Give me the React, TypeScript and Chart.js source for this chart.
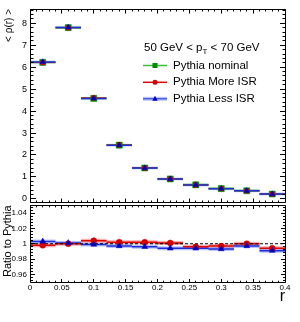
import React, { useEffect, useRef } from "react";
import { Chart, registerables } from "chart.js";
Chart.register(...registerables);

// ---------- data ----------
const rEdges = [0, 0.04, 0.08, 0.12, 0.16, 0.2, 0.24, 0.28, 0.32, 0.36, 0.4];
const rCenters = [0.02, 0.06, 0.1, 0.14, 0.18, 0.22, 0.26, 0.3, 0.34, 0.38];
const nominal = [6.22, 7.8, 4.58, 2.45, 1.41, 0.91, 0.64, 0.47, 0.37, 0.22];
const moreISR = [6.21, 7.8, 4.6, 2.455, 1.413, 0.911, 0.637, 0.469, 0.37, 0.219];
const lessISR = [6.24, 7.81, 4.575, 2.443, 1.404, 0.905, 0.636, 0.467, 0.369, 0.218];
const moreISRRatio = [0.998, 1.0, 1.004, 1.002, 1.002, 1.001, 0.996, 0.997, 1.0, 0.994];
const lessISRRatio = [1.003, 1.001, 0.999, 0.997, 0.996, 0.994, 0.994, 0.993, 0.997, 0.991];
const ratioReference = [1, 1];
const topYTicks = [0, 1, 2, 3, 4, 5, 6, 7, 8];
const ratioYTicks = [0.96, 0.98, 1, 1.02, 1.04];
const xTicks = [0, 0.05, 0.1, 0.15, 0.2, 0.25, 0.3, 0.35, 0.4];
const legendTitleParts = ["50 GeV < p", "T", " < 70 GeV"];
const legendLabels = ["Pythia nominal", "Pythia More ISR", "Pythia Less ISR"];

const FONT = '"Liberation Sans", Arial, sans-serif';
const GREEN_LINE = "#3cc03c";
const GREEN_MARK = "#008a00";
const RED_LINE = "#e00000";
const RED_MARK = "#d40000";
const RED_BAND = "rgba(240,110,110,0.55)";
const BLUE_LINE = "#1f2fd8";
const BLUE_MARK = "#0000b8";
const BLUE_BAND = "rgba(120,140,250,0.5)";
const BLUE_BAND_TOP = "rgba(120,140,250,0.4)";

function bins(values: number[]) {
  const out: any[] = [];
  values.forEach((v, i) => {
    out.push({ x: rEdges[i], y: v });
    out.push({ x: rEdges[i + 1], y: v });
    out.push({ x: rEdges[i + 1], y: null });
  });
  return out;
}
function pts(values: number[]) {
  return values.map((v, i) => ({ x: rCenters[i], y: v }));
}

function lineDs(data: any[], color: string, width: number, order: number, dash?: number[]) {
  return {
    type: "line",
    data,
    borderColor: color,
    borderWidth: width,
    borderDash: dash || [],
    pointRadius: 0,
    pointHoverRadius: 0,
    spanGaps: false,
    fill: false,
    order,
  };
}
function markDs(data: any[], color: string, style: string, radius: number, order: number) {
  return {
    type: "line",
    data,
    showLine: false,
    pointStyle: style,
    pointRadius: radius,
    pointHoverRadius: radius,
    pointBackgroundColor: color,
    pointBorderColor: color,
    pointBorderWidth: 0.5,
    order,
  };
}

type TickCfg = {
  xMinor: number; xEvery: number; xMaj: number; xMin: number;
  yMinor: number; yEvery: number; yMaj: number; yMin: number;
};

function frameTicks(cfg: TickCfg) {
  return {
    id: "frameTicks",
    afterDatasetsDraw(chart: any) {
      const { ctx, chartArea: a, scales } = chart;
      const xs = scales.x, ys = scales.y;
      const L = Math.floor(a.left) + 0.5, R = Math.floor(a.right) + 0.5;
      const T = Math.floor(a.top) + 0.5, B = Math.floor(a.bottom) + 0.5;
      ctx.save();
      ctx.strokeStyle = "#000";
      ctx.lineWidth = 1;
      ctx.beginPath();
      ctx.rect(L, T, R - L, B - T);
      const kx0 = Math.ceil(xs.min / cfg.xMinor - 1e-6), kx1 = Math.floor(xs.max / cfg.xMinor + 1e-6);
      for (let k = kx0; k <= kx1; k++) {
        const px = Math.floor(xs.getPixelForValue(k * cfg.xMinor)) + 0.5;
        const len = k % cfg.xEvery === 0 ? cfg.xMaj : cfg.xMin;
        ctx.moveTo(px, B); ctx.lineTo(px, B - len);
        ctx.moveTo(px, T); ctx.lineTo(px, T + len);
      }
      const ky0 = Math.ceil(ys.min / cfg.yMinor - 1e-6), ky1 = Math.floor(ys.max / cfg.yMinor + 1e-6);
      for (let k = ky0; k <= ky1; k++) {
        const py = Math.floor(ys.getPixelForValue(k * cfg.yMinor)) + 0.5;
        const len = k % cfg.yEvery === 0 ? cfg.yMaj : cfg.yMin;
        ctx.moveTo(L, py); ctx.lineTo(L + len, py);
        ctx.moveTo(R, py); ctx.lineTo(R - len, py);
      }
      ctx.stroke();
      ctx.restore();
    },
  };
}

const legendPlugin = {
  id: "legendBox",
  afterDraw(chart: any) {
    const ctx = chart.ctx;
    ctx.save();
    ctx.fillStyle = "#000";
    ctx.textBaseline = "middle";
    ctx.textAlign = "left";
    const big = `11.5px ${FONT}`;
    const small = `8px ${FONT}`;
    let x = 144;
    const y = 48;
    ctx.font = big;
    ctx.fillText(legendTitleParts[0], x, y);
    x += ctx.measureText(legendTitleParts[0]).width;
    ctx.font = small;
    ctx.fillText(legendTitleParts[1], x, y + 4);
    x += ctx.measureText(legendTitleParts[1]).width;
    ctx.font = big;
    ctx.fillText(legendTitleParts[2], x, y);

    const rows = [65.5, 82.3, 98.8];
    const x0 = 143, x1 = 167, xm = 155, xt = 173;
    ctx.strokeStyle = GREEN_LINE; ctx.lineWidth = 1.5;
    ctx.beginPath(); ctx.moveTo(x0, rows[0]); ctx.lineTo(x1, rows[0]); ctx.stroke();
    ctx.fillStyle = GREEN_MARK; ctx.fillRect(xm - 2.5, rows[0] - 2.5, 5, 5);
    ctx.strokeStyle = RED_LINE; ctx.lineWidth = 1.5;
    ctx.beginPath(); ctx.moveTo(x0, rows[1]); ctx.lineTo(x1, rows[1]); ctx.stroke();
    ctx.fillStyle = RED_MARK; ctx.beginPath(); ctx.arc(xm, rows[1], 2.5, 0, Math.PI * 2); ctx.fill();
    ctx.strokeStyle = BLUE_BAND; ctx.lineWidth = 4;
    ctx.beginPath(); ctx.moveTo(x0, rows[2]); ctx.lineTo(x1, rows[2]); ctx.stroke();
    ctx.strokeStyle = BLUE_LINE; ctx.lineWidth = 1;
    ctx.beginPath(); ctx.moveTo(x0, rows[2]); ctx.lineTo(x1, rows[2]); ctx.stroke();
    ctx.fillStyle = BLUE_MARK; ctx.beginPath();
    ctx.moveTo(xm, rows[2] - 3); ctx.lineTo(xm + 2.7, rows[2] + 2); ctx.lineTo(xm - 2.7, rows[2] + 2); ctx.closePath(); ctx.fill();

    ctx.fillStyle = "#000";
    ctx.font = big;
    legendLabels.forEach((t, i) => ctx.fillText(t, xt, rows[i]));
    ctx.restore();
  },
};

const fmt = (v: number) => String(Number(v.toFixed(3)));
const noPad = (s: any) => { s.paddingTop = 0; s.paddingBottom = 0; s.paddingLeft = 0; s.paddingRight = 0; };

export default function App() {
  const topRef = useRef<HTMLCanvasElement>(null);
  const botRef = useRef<HTMLCanvasElement>(null);

  useEffect(() => {
    const top = new Chart(topRef.current as HTMLCanvasElement, {
      type: "line",
      data: {
        datasets: [
          lineDs(bins(lessISR), BLUE_BAND_TOP, 3, 9),
          lineDs(bins(nominal), GREEN_LINE, 2, 8),
          lineDs(bins(moreISR), RED_LINE, 1, 7),
          lineDs(bins(lessISR), BLUE_LINE, 1.5, 6),
          markDs(pts(nominal), GREEN_MARK, "rect", 4.3, 3),
          markDs(pts(moreISR), RED_MARK, "circle", 2.5, 2),
          markDs(pts(lessISR), BLUE_MARK, "triangle", 3.2, 1),
        ] as any,
      },
      options: {
        responsive: false,
        animation: false,
        events: [],
        layout: { padding: { left: 0, right: 15, top: 9, bottom: 1.5 } },
        plugins: { legend: { display: false }, tooltip: { enabled: false } },
        scales: {
          x: { type: "linear", display: false, min: 0, max: 0.4, afterFit: noPad },
          y: {
            type: "linear",
            min: -0.15,
            max: 8.65,
            grid: { display: false, drawTicks: false },
            border: { display: false },
            afterBuildTicks: (s: any) => { s.ticks = topYTicks.map((v) => ({ value: v })); },
            afterFit: (s: any) => { s.width = 30; noPad(s); },
            ticks: {
              padding: 3,
              color: "#000",
              font: { family: FONT, size: 9 },
              callback: (v: any) => fmt(Number(v)),
            },
            title: {
              display: true,
              text: "< ρ(r) >",
              align: "end",
              color: "#000",
              font: { family: FONT, size: 10 },
              padding: { top: 3.5, bottom: 0 },
            },
          },
        },
      },
      plugins: [
        frameTicks({ xMinor: 0.01, xEvery: 5, xMaj: 4, xMin: 2, yMinor: 0.2, yEvery: 5, yMaj: 5.5, yMin: 3 }),
        legendPlugin,
      ],
    } as any);

    const bot = new Chart(botRef.current as HTMLCanvasElement, {
      type: "line",
      data: {
        datasets: [
          lineDs(bins(moreISRRatio), RED_BAND, 4, 9),
          lineDs(bins(lessISRRatio), BLUE_BAND, 4, 8),
          lineDs(bins(lessISRRatio), BLUE_LINE, 1.5, 7),
          lineDs(bins(moreISRRatio), RED_LINE, 1.5, 6),
          lineDs(ratioReference.map((v, i) => ({ x: xTicks[i * (xTicks.length - 1)], y: v })), "#000", 1, 5, [3, 2]),
          markDs(pts(moreISRRatio), RED_MARK, "circle", 3, 2),
          markDs(pts(lessISRRatio), BLUE_MARK, "triangle", 3.4, 1),
        ] as any,
      },
      options: {
        responsive: false,
        animation: false,
        events: [],
        layout: { padding: { left: 0, right: 15, top: 5.5, bottom: 0 } },
        plugins: { legend: { display: false }, tooltip: { enabled: false } },
        scales: {
          x: {
            type: "linear",
            min: 0,
            max: 0.4,
            grid: { display: false, drawTicks: false },
            border: { display: false },
            afterBuildTicks: (s: any) => { s.ticks = xTicks.map((v) => ({ value: v })); },
            afterFit: (s: any) => { s.height = 40; noPad(s); },
            ticks: {
              padding: 1,
              autoSkip: false,
              maxRotation: 0,
              color: "#000",
              font: { family: FONT, size: 8 },
              callback: (v: any) => fmt(Number(v)),
            },
            title: {
              display: true,
              text: "r",
              align: "end",
              color: "#000",
              font: { family: FONT, size: 16 },
              padding: { top: 0, bottom: 15.4 },
            },
          },
          y: {
            type: "linear",
            min: 0.95,
            max: 1.05,
            grid: { display: false, drawTicks: false },
            border: { display: false },
            afterBuildTicks: (s: any) => { s.ticks = ratioYTicks.map((v) => ({ value: v })); },
            afterFit: (s: any) => { s.width = 30; noPad(s); },
            ticks: {
              padding: 3,
              color: "#000",
              font: { family: FONT, size: 8 },
              callback: (v: any) => fmt(Number(v)),
            },
            title: {
              display: true,
              text: "Ratio to Pythia",
              align: "end",
              color: "#000",
              font: { family: FONT, size: 11 },
              padding: { top: 0.9, bottom: 0 },
            },
          },
        },
      },
      plugins: [
        frameTicks({ xMinor: 0.01, xEvery: 5, xMaj: 3.5, xMin: 1.8, yMinor: 0.004, yEvery: 5, yMaj: 4.5, yMin: 2.5 }),
      ],
    } as any);

    return () => {
      top.destroy();
      bot.destroy();
    };
  }, []);

  return (
    <div style={{ position: "fixed", left: 0, top: 0, width: 300, height: 322, background: "#fff" }}>
      <canvas ref={topRef} width={300} height={207} style={{ position: "absolute", left: 0, top: 0, width: 300, height: 207 }} />
      <canvas ref={botRef} width={300} height={122} style={{ position: "absolute", left: 0, top: 200, width: 300, height: 122 }} />
    </div>
  );
}
